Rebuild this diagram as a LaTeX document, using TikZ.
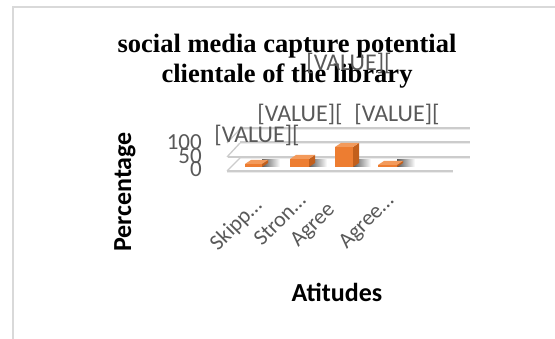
\documentclass[tikz,border=0pt]{standalone}
\usepackage{fontspec}
\setmainfont{Liberation Serif}
\newfontfamily\calib{Carlito}
\definecolor{framegray}{HTML}{D9D9D9}
\definecolor{labelgray}{HTML}{595959}
\definecolor{barfront}{HTML}{ED7D31}
\definecolor{bartop}{HTML}{F39A5B}
\definecolor{barside}{HTML}{C25F1C}
\tikzset{
  charttitle/.style={font=\bfseries\fontsize{26.5}{30}\selectfont, anchor=base, inner sep=0pt},
  valuelabel/.style={font=\calib\fontsize{24}{24}\selectfont, text=labelgray, inner sep=0pt},
  ticklabel/.style={font=\calib\fontsize{23}{23}\selectfont, text=labelgray, inner sep=0pt, anchor=east},
  catlabel/.style={font=\calib\fontsize{22}{22}\selectfont, text=labelgray, inner sep=0pt, rotate=45, anchor=east},
  axistitle/.style={font=\calib\bfseries\fontsize{26}{26}\selectfont, inner sep=0pt},
  gridline/.style={draw=black!20, line width=1.3pt},
  gridshine/.style={draw=black!8, line width=1pt},
}
% one 3-D column: #1 left x, #2 right x, #3 top y (base at y=167)
\newcommand\colbar[3]{%
  \shade[left color=black!65, right color=white] (#2,160) rectangle (#2+18,167);
  \fill[barside] (#2,167) -- (#2+6,163) -- (#2+6,#3-4) -- (#2,#3) -- cycle;
  \fill[bartop] (#1,#3) -- (#2,#3) -- (#2+6,#3-4) -- (#1+6,#3-4) -- cycle;
  \fill[barfront] (#1,#3) rectangle (#2,167);
}
\begin{document}
\begin{tikzpicture}[x=1pt,y=-1pt]
\useasboundingbox[fill=white] (0,0) rectangle (555,339);
% chart frame (left and top edges)
\draw[framegray, line width=2pt] (13,339) -- (13,7) -- (555,7);

% back wall and floor gridlines
\foreach \gy in {128,142,157} {
  \draw[gridline] (240,\gy) -- (470,\gy);
  \draw[gridshine] (240,\gy+2) -- (470,\gy+2);
}
\draw[gridline] (228,157) -- (240,157);
\draw[gridline] (227,171) -- (453,171);
\draw[gridshine] (227,173) -- (453,173);
\draw[gridline] (227,171) -- (240,158);
\draw[gridline] (227,157) -- (240,143);
\draw[gridline] (227,143) -- (240,129);

% columns
\colbar{245}{262}{164}
\colbar{290}{309}{159}
\colbar{335}{353}{147}
\colbar{378}{397}{165}

% title
\node[charttitle] (t1) at (287,53) {social media capture potential};
\node[charttitle] (t2) at (287,83) {clientale of the library};

% data labels
\node[valuelabel] (v3) at (349,63) {[VALUE][};
\node[valuelabel] (v2) at (300,114) {[VALUE][};
\node[valuelabel] (v4) at (397,114) {[VALUE][};
\node[valuelabel] (v1) at (257,135) {[VALUE][};

% value axis
\node[ticklabel] (y100) at (202,142) {100};
\node[ticklabel] (y50) at (202,156) {50};
\node[ticklabel] (y0) at (202,169) {0};
\node[axistitle, rotate=90] (ytitle) at (125,192) {Percentage};

% category axis
\node[catlabel] (c1) at (259,202) {Skipp…};
\node[catlabel] (c2) at (302,197) {Stron…};
\node[catlabel] (c3) at (332,207) {Agree};
\node[catlabel] (c4) at (391,198) {Agree…};
\node[axistitle] (xtitle) at (337,292) {Atitudes};
\end{tikzpicture}
\end{document}
